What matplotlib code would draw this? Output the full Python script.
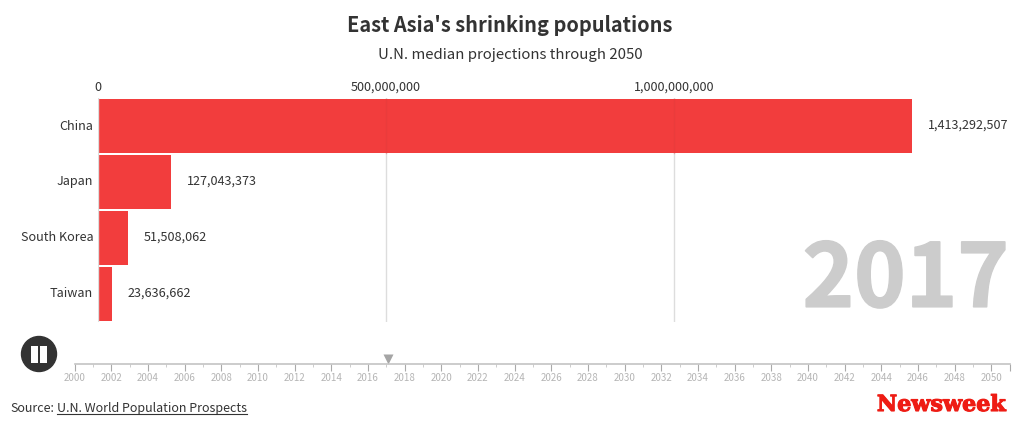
import matplotlib
matplotlib.use("Agg")
import matplotlib.pyplot as plt
import matplotlib.patheffects as pe
from matplotlib.patches import Circle, Rectangle
from matplotlib.transforms import ScaledTranslation

countries = ["China", "Japan", "South Korea", "Taiwan"]
population = [1413292507, 127043373, 51508062, 23636662]
xticks = [0, 500000000, 1000000000]
year = 2017
marker_year = 2017.1
timeline_labels = list(range(2000, 2051, 2))
timeline_minor = list(range(2000, 2052))

W, H = 1020, 431
plt.rcParams['font.family'] = ['Noto Sans CJK SC', 'DejaVu Sans']
DARK = "#333333"
RED = "#f23d3d"

fig = plt.figure(figsize=(W / 100, H / 100), dpi=100)


def box(x0, y0, x1, y1):
    # pixel box, y measured from the top
    return [x0 / W, 1 - y1 / H, (x1 - x0) / W, (y1 - y0) / H]


# overlay in pixel coords for the furniture
bg = fig.add_axes([0, 0, 1, 1], zorder=0)
bg.set_xlim(0, W)
bg.set_ylim(H, 0)
bg.axis("off")

bg.text(510, 25.5, "East Asia's shrinking populations", ha="center", va="center",
        fontsize=14.4, fontweight="bold", color=DARK)
bg.text(510, 55.5, "U.N. median projections through 2050", ha="center", va="center",
        fontsize=10.75, color=DARK)

# main bars
ax = fig.add_axes(box(98, 99, 912.1, 323), zorder=1)
ax.patch.set_alpha(0)
ax.set_xlim(0, population[0])
ax.set_ylim(len(countries) - 0.5, -0.5)
ax.barh(range(len(countries)), population, height=0.964, color=RED, zorder=2)
for v in xticks:
    ax.axvline(v, color="#dddddd", lw=1, zorder=3 if v == 0 else 1)
for v in xticks[1:]:
    ax.plot([v, v], [-0.48, 0.48], color="#d83a3a", lw=1, alpha=0.3, zorder=3)
for s in ax.spines.values():
    s.set_visible(False)
ax.xaxis.tick_top()
ax.set_xticks(xticks, [f"{v:,}" for v in xticks])
ax.set_yticks(range(len(countries)), countries)
ax.tick_params(length=0, labelsize=9.1, labelcolor=DARK)
ax.tick_params(axis="x", pad=3.5)
ax.tick_params(axis="y", pad=3.5)
up = ScaledTranslation(0, 2.5 / 100, fig.dpi_scale_trans)
for lab in ax.get_yticklabels():
    lab.set_transform(lab.get_transform() + up)
for i, v in enumerate(population):
    ax.annotate(f"{v:,}", (v, i), xytext=(11.5, 1.5), textcoords="offset points",
                va="center", ha="left", fontsize=9.1, color=DARK, annotation_clip=False)

bg2 = fig.add_axes([0, 0, 1, 1], zorder=2)
bg2.set_xlim(0, W)
bg2.set_ylim(H, 0)
bg2.axis("off")
bg2.text(1009, 282.5, str(year), ha="right", va="center", fontsize=63,
         fontweight="bold", color="#cccccc",
         path_effects=[pe.withStroke(linewidth=1.2, foreground="#cccccc")])

# pause button
bg2.add_patch(Circle((39, 355), 17.5, color=DARK))
bg2.add_patch(Rectangle((31.5, 347), 7, 17, color="white", ec="none"))
bg2.add_patch(Rectangle((40.5, 347), 7, 17, color="white", ec="none"))

# timeline
tl = fig.add_axes(box(74.5, 340, 1009.5, 365), zorder=3)
tl.patch.set_alpha(0)
tl.set_xlim(2000, 2051)
tl.set_ylim(0, 1)
tl.set_yticks([])
for s in ["top", "left", "right"]:
    tl.spines[s].set_visible(False)
tl.spines["bottom"].set_color("#c4c4c4")
tl.spines["bottom"].set_linewidth(1.2)
tl.set_xticks(timeline_labels + [2051], [str(y) for y in timeline_labels] + [""])
tl.set_xticks(timeline_minor, minor=True)
tl.tick_params(axis="x", which="major", length=5, width=0.8, color="#aaaaaa",
               labelsize=7, labelcolor="#b5b5b5", pad=0.5)
tl.tick_params(axis="x", which="minor", length=2, width=0.7, color="#cccccc")
tl.plot([marker_year], [0.2], marker="v", ms=7, color="#a5a5a5", mec="none", clip_on=False)

# footer
bg2.text(10.5, 409, "Source:", ha="left", va="center", fontsize=9, color=DARK)
bg2.text(57, 409, "U.N. World Population Prospects", ha="left", va="center",
         fontsize=9, color=DARK)
bg2.plot([57, 247], [415, 415], color=DARK, lw=0.8)
bg2.text(1006, 406, "Newsweek", ha="right", va="center", fontsize=16,
         fontweight="bold", family="DejaVu Serif", color="#ee1c14",
         path_effects=[pe.withStroke(linewidth=0.8, foreground="#ee1c14")])

fig.savefig("out.png", dpi=100)
